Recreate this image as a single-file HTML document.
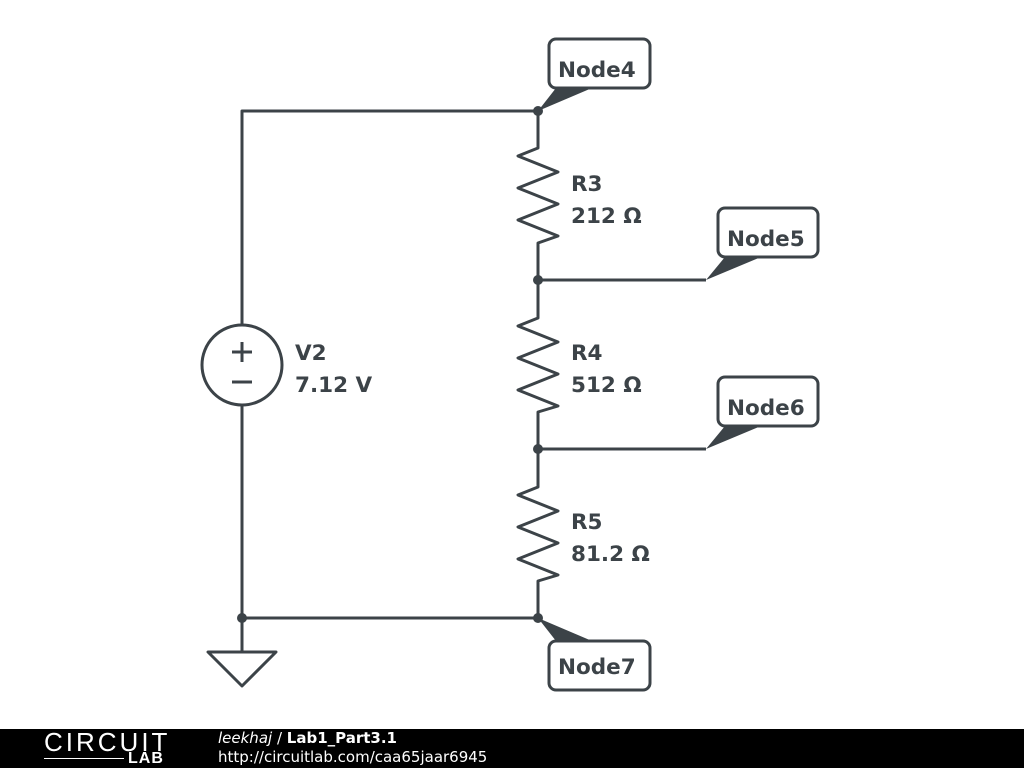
<!DOCTYPE html>
<html><head><style>
body{margin:0;width:1024px;height:768px;background:#fff;overflow:hidden;position:relative;font-family:"DejaVu Sans",sans-serif}
svg{position:absolute;left:0;top:0}
.footer{position:absolute;left:0;top:729px;width:1024px;height:39px;background:#000;color:#fff}
</style></head><body>
<svg width="1024" height="729" viewBox="0 0 1024 729">
<g stroke="#3c4348" stroke-width="3" fill="none" stroke-linejoin="round">
<path d="M242 325 V111 H538 V148 L518 156 L558 172 L518 188 L558 204 L518 220 L558 236 L538 243 V318 L518 326 L558 342 L518 358 L558 374 L518 390 L558 406 L538 412 V487 L518 495 L558 511 L518 527 L558 543 L518 559 L558 575 L538 581 V618 H242 V405"/>
<path d="M538 280 H706 M538 449 H706"/>
<circle cx="242" cy="365" r="40"/>
<path d="M232 352 H252 M242 342 V362 M232 382 H252"/>
<path d="M242 618 V652 M208 652 H276 L242 686 Z"/>
<rect x="549" y="39" width="101" height="49" rx="7"/>
<rect x="718" y="208" width="100" height="49" rx="7"/>
<rect x="718" y="377" width="100" height="49" rx="7"/>
<rect x="549" y="641" width="101" height="49" rx="7"/>
</g>
<g fill="#3c4348">
<circle cx="538" cy="111" r="5"/><circle cx="538" cy="280" r="5"/><circle cx="538" cy="449" r="5"/><circle cx="538" cy="618" r="5"/><circle cx="242" cy="618" r="5"/>
<polygon points="538,111 556,88 592,88"/>
<polygon points="706,280 725,257 761,257"/>
<polygon points="706,449 725,426 761,426"/>
<polygon points="538,618 556,641 592,641"/>
</g>
<g fill="#3c4348" font-family="DejaVu Sans, sans-serif" font-weight="bold" font-size="21.5">
<text x="558" y="77">Node4</text>
<text x="727" y="246">Node5</text>
<text x="727" y="415">Node6</text>
<text x="558" y="674">Node7</text>
<text x="571" y="191">R3</text><text x="571" y="223">212 Ω</text>
<text x="571" y="360">R4</text><text x="571" y="392">512 Ω</text>
<text x="571" y="529">R5</text><text x="571" y="561">81.2 Ω</text>
<text x="295" y="360">V2</text><text x="295" y="392">7.12 V</text>
</g>
</svg>
<div class="footer">
<div style="position:absolute;left:44px;top:1px;font-family:'Liberation Sans',sans-serif;font-size:26px;letter-spacing:3px;font-weight:300;line-height:25px">CIRCUIT</div>
<div style="position:absolute;left:44px;top:29px;width:80px;height:1px;background:#fff"></div>
<div style="position:absolute;left:128px;top:22px;font-family:'Liberation Sans',sans-serif;font-size:16px;font-weight:bold;line-height:16px;letter-spacing:1px">LAB</div>
<div style="position:absolute;left:218px;top:1px;font-size:15px;line-height:17px"><i>leekhaj</i> / <b>Lab1_Part3.1</b></div>
<div style="position:absolute;left:218px;top:20px;font-size:15px;line-height:17px">http://circuitlab.com/caa65jaar6945</div>
</div>
</body></html>
